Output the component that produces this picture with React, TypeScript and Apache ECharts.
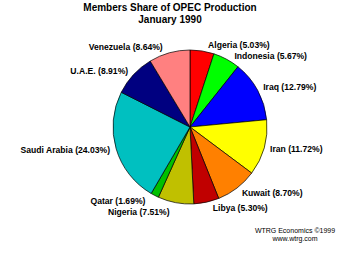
import React, { useEffect, useRef } from "react";
import * as echarts from "echarts";

const members = ["Algeria", "Indonesia", "Iraq", "Iran", "Kuwait", "Libya", "Nigeria", "Qatar", "Saudi Arabia", "U.A.E.", "Venezuela"];
const shares = [5.03, 5.67, 12.79, 11.72, 8.70, 5.30, 7.51, 1.69, 24.03, 8.91, 8.64];
const colors = ["#ff0000", "#00ff00", "#0000ff", "#ffff00", "#ff8000", "#c00000", "#c0c000", "#00c000", "#00c0c0", "#000080", "#ff8080"];
const titleLines = ["Members Share of OPEC Production", "January 1990"];
const footerLines = ["WTRG Economics \u00a91999", "www.wtrg.com"];

const FONT = "'Liberation Sans', Arial, Helvetica, sans-serif";

export default function App() {
  const ref = useRef<HTMLDivElement>(null);
  useEffect(() => {
    document.body.style.margin = "0";
    const chart = echarts.init(ref.current!, null, { renderer: "svg" });
    chart.setOption({
      animation: false,
      backgroundColor: "#ffffff",
      title: {
        text: titleLines.join("\n"),
        left: 170,
        top: 1.5,
        padding: 0,
        textAlign: "center",
        textStyle: { fontFamily: FONT, fontWeight: "bold", fontSize: 10, lineHeight: 12, color: "#000" },
      },
      graphic: [
        {
          type: "text",
          x: 295,
          y: 226,
          style: {
            text: footerLines.join("\n"),
            fontFamily: FONT,
            fontSize: 7,
            lineHeight: 8,
            fill: "#000",
            align: "center",
          },
        },
      ],
      series: [
        {
          type: "pie",
          center: [190, 127],
          radius: 77,
          startAngle: 90,
          clockwise: true,
          avoidLabelOverlap: true,
          data: members.map((m, i) => ({ name: m, value: shares[i], itemStyle: { color: colors[i] } })),
          itemStyle: { borderColor: "#000", borderWidth: 0.7 },
          label: {
            show: true,
            position: "outside",
            formatter: (p: any) => `${p.name} (${shares[p.dataIndex].toFixed(2)}%)`,
            fontFamily: FONT,
            fontWeight: "bold",
            fontSize: 8.6,
            color: "#000",
          },
          labelLine: { show: false, length: 6, length2: 0 },
          emphasis: { disabled: true },
        },
      ],
    });
    return () => chart.dispose();
  }, []);
  return <div ref={ref} style={{ width: 350, height: 262 }} />;
}
